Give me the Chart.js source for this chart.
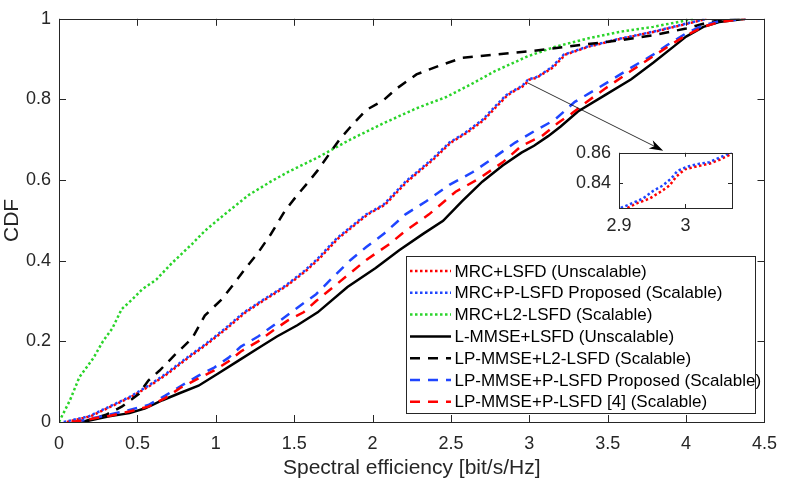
<!DOCTYPE html>
<html>
<head>
<meta charset="utf-8">
<script src="https://cdn.jsdelivr.net/npm/chart.js@4.4.0/dist/chart.umd.min.js"></script>
<style>
  body { margin: 0; background: #fff; }
  #wrap { position: relative; width: 788px; height: 484px; }
  #cdfChart { display: block; }
  #inset { position: absolute; left: 569px; top: 134px; }
</style>
</head>
<body>
<div id="wrap">
  <canvas id="cdfChart" width="788" height="484"></canvas>
  <canvas id="inset" width="168" height="106"></canvas>
</div>
<script>
// --- Data ---
const seriesNames = [
  "MRC+LSFD (Unscalable)",
  "MRC+P-LSFD Proposed (Scalable)",
  "MRC+L2-LSFD (Scalable)",
  "L-MMSE+LSFD (Unscalable)",
  "LP-MMSE+L2-LSFD (Scalable)",
  "LP-MMSE+P-LSFD Proposed (Scalable)",
  "LP-MMSE+P-LSFD [4] (Scalable)"
];

const mrcLsfdX = [0.05, 0.20, 0.33, 0.46, 0.58, 0.69, 0.81, 0.94, 1.07, 1.19, 1.32, 1.45, 1.57, 1.66, 1.78, 1.97, 2.08, 2.22, 2.39, 2.50, 2.60, 2.71, 2.79, 2.86,
  2.912, 2.928, 2.946, 2.964, 2.976, 2.986, 2.999, 3.016, 3.036, 3.051, 3.069, 3.15, 3.23, 3.38, 3.59, 3.80, 4.01, 4.13];
const mrcLsfdY = [0, 0.014, 0.038, 0.062, 0.09, 0.119, 0.155, 0.192, 0.232, 0.272, 0.305, 0.337, 0.373, 0.405, 0.455, 0.515, 0.539, 0.596, 0.652, 0.693, 0.717, 0.749, 0.782, 0.81,
  0.8229, 0.8264, 0.8293, 0.8343, 0.8381, 0.844, 0.8489, 0.8508, 0.8527, 0.8553, 0.8592, 0.879, 0.911, 0.931, 0.951, 0.968, 0.988, 1.0];

const mrcPLsfdX = [0.03, 0.19, 0.32, 0.45, 0.57, 0.68, 0.80, 0.93, 1.06, 1.18, 1.31, 1.44, 1.56, 1.65, 1.77, 1.96, 2.07, 2.21, 2.38, 2.49, 2.59, 2.70, 2.78, 2.85,
  2.902, 2.921, 2.936, 2.951, 2.966, 2.979, 2.988, 3.003, 3.021, 3.036, 3.051, 3.063, 3.14, 3.22, 3.37, 3.58, 3.79, 4.00, 4.13];
const mrcPLsfdY = [0, 0.014, 0.038, 0.062, 0.09, 0.119, 0.155, 0.192, 0.232, 0.272, 0.305, 0.337, 0.373, 0.405, 0.455, 0.515, 0.539, 0.596, 0.652, 0.693, 0.717, 0.749, 0.782, 0.81,
  0.8229, 0.8264, 0.8293, 0.8343, 0.8381, 0.843, 0.8479, 0.8508, 0.8527, 0.8537, 0.8567, 0.8592, 0.879, 0.911, 0.931, 0.951, 0.968, 0.988, 1.0];

const mrcL2LsfdX = [0, 0.07, 0.13, 0.22, 0.28, 0.34, 0.40, 0.47, 0.53, 0.62, 0.72, 0.85, 0.93, 1.05, 1.21, 1.35, 1.46, 1.65, 1.86, 2.07, 2.28, 2.47, 2.63, 2.78, 2.99, 3.16, 3.37, 3.58, 3.79, 4.00, 4.06];
const mrcL2LsfdY = [0, 0.054, 0.111, 0.159, 0.20, 0.232, 0.28, 0.305, 0.329, 0.353, 0.394, 0.442, 0.474, 0.513, 0.563, 0.596, 0.62, 0.656, 0.701, 0.741, 0.778, 0.806, 0.838, 0.87, 0.907, 0.93, 0.951, 0.968, 0.98, 0.996, 1.0];

const lMmseLsfdX = [0.15, 0.32, 0.45, 0.55, 0.66, 0.76, 0.89, 1.01, 1.14, 1.27, 1.39, 1.52, 1.65, 1.84, 2.02, 2.17, 2.32, 2.45, 2.57, 2.70, 2.83, 2.95, 3.03, 3.12, 3.20, 3.31, 3.48, 3.65, 3.79, 3.92, 4.00, 4.11, 4.21, 4.38];
const lMmseLsfdY = [0, 0.014, 0.022, 0.034, 0.054, 0.07, 0.09, 0.119, 0.151, 0.183, 0.212, 0.24, 0.272, 0.335, 0.382, 0.426, 0.466, 0.499, 0.547, 0.596, 0.636, 0.668, 0.685, 0.709, 0.733, 0.77, 0.81, 0.85, 0.891, 0.931, 0.956, 0.98, 0.992, 1.0];

const lpMmseL2LsfdX = [0.15, 0.30, 0.40, 0.51, 0.57, 0.64, 0.74, 0.85, 0.93, 1.04, 1.12, 1.19, 1.27, 1.35, 1.44, 1.52, 1.59, 1.65, 1.73, 1.79, 1.88, 1.96, 2.07, 2.15, 2.28, 2.42, 2.57, 2.78, 2.99, 3.16, 3.37, 3.58, 3.79, 4.00, 4.15, 4.25, 4.38];
const lpMmseL2LsfdY = [0, 0.018, 0.038, 0.07, 0.103, 0.127, 0.167, 0.208, 0.264, 0.305, 0.345, 0.381, 0.42, 0.465, 0.523, 0.563, 0.595, 0.624, 0.668, 0.701, 0.741, 0.774, 0.798, 0.826, 0.862, 0.883, 0.903, 0.911, 0.919, 0.927, 0.937, 0.947, 0.959, 0.976, 0.992, 0.998, 1.0];

const lpMmsePLsfdX = [0.10, 0.32, 0.45, 0.57, 0.68, 0.78, 0.89, 0.99, 1.08, 1.16, 1.27, 1.37, 1.54, 1.64, 1.75, 1.86, 1.96, 2.07, 2.21, 2.34, 2.49, 2.64, 2.76, 2.91, 3.03, 3.16, 3.29, 3.48, 3.65, 3.79, 3.88, 4.00, 4.11, 4.21, 4.38];
const lpMmsePLsfdY = [0, 0.018, 0.03, 0.042, 0.066, 0.09, 0.115, 0.135, 0.159, 0.187, 0.212, 0.24, 0.289, 0.317, 0.36, 0.402, 0.434, 0.466, 0.515, 0.547, 0.588, 0.62, 0.652, 0.693, 0.721, 0.749, 0.794, 0.838, 0.879, 0.911, 0.935, 0.964, 0.984, 0.994, 1.0];

const lpMmsePLsfd4X = [0.08, 0.32, 0.45, 0.57, 0.68, 0.78, 0.89, 0.99, 1.08, 1.16, 1.27, 1.37, 1.46, 1.56, 1.64, 1.75, 1.86, 1.96, 2.11, 2.21, 2.36, 2.53, 2.68, 2.83, 2.95, 3.08, 3.18, 3.27, 3.37, 3.48, 3.65, 3.79, 3.90, 4.00, 4.11, 4.21, 4.38];
const lpMmsePLsfd4Y = [0, 0.015, 0.026, 0.038, 0.06, 0.086, 0.108, 0.128, 0.15, 0.175, 0.2, 0.228, 0.252, 0.272, 0.3, 0.335, 0.37, 0.402, 0.442, 0.474, 0.515, 0.571, 0.604, 0.644, 0.685, 0.709, 0.741, 0.765, 0.795, 0.826, 0.871, 0.907, 0.935, 0.959, 0.98, 0.992, 1.0];

// zoomed window + its ticks, and the arrow pointing to it
const insetXRange = [2.9, 3.07];
const insetYRange = [0.823, 0.86];
const insetXTicks = [2.9, 3];
const insetYTicks = [0.84, 0.86];
const arrowFrom = [2.99, 0.841];
const arrowTo = [3.854, 0.673];

// --- Styles ---
const RED = "#ff0000", BLUE = "#1f45ff", GREEN = "#2ad42a", BLACK = "#000000";
const DOT = [2.5, 2.5], DASH = [10, 8];
const AXIS = "#262626";
const FONT = "'Liberation Sans', Arial, sans-serif";

Chart.defaults.font.family = FONT;
Chart.defaults.color = AXIS;

const pts = (xs, ys) => xs.map((x, i) => ({ x: x, y: ys[i] }));
const fmt = v => String(+v.toFixed(2)); // 1 not 1.0, like MATLAB

function series(name, xs, ys, color, dash, i) {
  return {
    label: name,
    data: pts(xs, ys),
    borderColor: color,
    borderDash: dash,
    borderWidth: 2.5,
    pointRadius: 0,
    showLine: true,
    fill: false,
    order: 10 - i // later series on top
  };
}

const allSeries = [
  series(seriesNames[0], mrcLsfdX, mrcLsfdY, RED, DOT, 0),
  series(seriesNames[1], mrcPLsfdX, mrcPLsfdY, BLUE, DOT, 1),
  series(seriesNames[2], mrcL2LsfdX, mrcL2LsfdY, GREEN, DOT, 2),
  series(seriesNames[3], lMmseLsfdX, lMmseLsfdY, BLACK, [], 3),
  series(seriesNames[4], lpMmseL2LsfdX, lpMmseL2LsfdY, BLACK, DASH, 4),
  series(seriesNames[5], lpMmsePLsfdX, lpMmsePLsfdY, BLUE, DASH, 5),
  series(seriesNames[6], lpMmsePLsfd4X, lpMmsePLsfd4Y, RED, DASH, 6)
];

// --- Plugins ---
// MATLAB-like box with inward ticks on all four sides
const boxTicks = {
  id: "boxTicks",
  beforeDatasetsDraw(chart) {
    const { ctx, chartArea: a } = chart;
    ctx.save();
    ctx.fillStyle = "#fff";
    ctx.fillRect(a.left, a.top, a.right - a.left, a.bottom - a.top);
    ctx.restore();
  },
  afterDatasetsDraw(chart, args, opts) {
    const { ctx, chartArea: a, scales: { x, y } } = chart;
    const len = opts.len || 7;
    ctx.save();
    ctx.strokeStyle = AXIS;
    ctx.lineWidth = 1;
    ctx.beginPath();
    x.ticks.forEach(t => {
      const px = Math.round(x.getPixelForValue(t.value)) + 0.5;
      ctx.moveTo(px, a.bottom); ctx.lineTo(px, a.bottom - len);
      ctx.moveTo(px, a.top); ctx.lineTo(px, a.top + len);
    });
    y.ticks.forEach(t => {
      const py = Math.round(y.getPixelForValue(t.value)) + 0.5;
      ctx.moveTo(a.left, py); ctx.lineTo(a.left + len, py);
      ctx.moveTo(a.right, py); ctx.lineTo(a.right - len, py);
    });
    ctx.stroke();
    ctx.strokeRect(Math.round(a.left) + 0.5, Math.round(a.top) + 0.5, Math.round(a.right - a.left), Math.round(a.bottom - a.top));
    ctx.restore();
  }
};

// legend box in the lower right + arrow to the inset
const legendAndArrow = {
  id: "legendAndArrow",
  afterDraw(chart) {
    const { ctx, chartArea: a, scales: { x, y } } = chart;
    ctx.save();

    // arrow
    const x0 = x.getPixelForValue(arrowFrom[0]), y0 = y.getPixelForValue(arrowFrom[1]);
    const x1 = x.getPixelForValue(arrowTo[0]), y1 = y.getPixelForValue(arrowTo[1]);
    const ang = Math.atan2(y1 - y0, x1 - x0);
    ctx.strokeStyle = "#000";
    ctx.fillStyle = "#000";
    ctx.lineWidth = 0.8;
    ctx.beginPath();
    ctx.moveTo(x0, y0);
    ctx.lineTo(x1 - 10 * Math.cos(ang), y1 - 10 * Math.sin(ang));
    ctx.stroke();
    ctx.beginPath();
    ctx.moveTo(x1, y1);
    ctx.lineTo(x1 - 14 * Math.cos(ang) + 4.5 * Math.sin(ang), y1 - 14 * Math.sin(ang) - 4.5 * Math.cos(ang));
    ctx.lineTo(x1 - 10 * Math.cos(ang), y1 - 10 * Math.sin(ang));
    ctx.lineTo(x1 - 14 * Math.cos(ang) - 4.5 * Math.sin(ang), y1 - 14 * Math.sin(ang) + 4.5 * Math.cos(ang));
    ctx.closePath();
    ctx.fill();

    // legend
    const lx = Math.round(a.right - 358) + 0.5, ly = Math.round(a.bottom - 166) + 0.5;
    const lw = 349, lh = 157, rowH = 21.8;
    ctx.fillStyle = "#fff";
    ctx.fillRect(lx, ly, lw, lh);
    ctx.strokeStyle = AXIS;
    ctx.lineWidth = 1;
    ctx.strokeRect(lx, ly, lw, lh);
    ctx.font = "17px " + FONT;
    ctx.textBaseline = "middle";
    allSeries.forEach((ds, i) => {
      const cy = ly + 14.5 + i * rowH;
      ctx.strokeStyle = ds.borderColor;
      ctx.lineWidth = 2.5;
      ctx.setLineDash(ds.borderDash);
      ctx.beginPath();
      ctx.moveTo(lx + 3.5, cy);
      ctx.lineTo(lx + 44.5, cy);
      ctx.stroke();
      ctx.setLineDash([]);
      ctx.fillStyle = "#000";
      ctx.fillText(ds.label, lx + 48, cy + 1);
    });
    ctx.restore();
  }
};

// --- Main chart ---
new Chart(document.getElementById("cdfChart"), {
  type: "scatter",
  data: { datasets: allSeries },
  plugins: [boxTicks, legendAndArrow],
  options: {
    responsive: false,
    animation: false,
    layout: { padding: { top: 10, right: 16, left: 0, bottom: 0 } },
    plugins: { legend: { display: false }, tooltip: { enabled: false }, boxTicks: { len: 7 } },
    scales: {
      x: {
        type: "linear", min: 0, max: 4.5,
        ticks: { stepSize: 0.5, padding: 11, font: { size: 18 }, color: AXIS, maxRotation: 0, callback: fmt },
        grid: { display: false, drawTicks: false },
        border: { display: false },
        title: { display: true, text: "Spectral efficiency [bit/s/Hz]", font: { size: 21 }, color: AXIS, padding: { top: 0, bottom: 3 } },
        afterFit: s => { s.height = 62; }
      },
      y: {
        type: "linear", min: 0, max: 1,
        ticks: { stepSize: 0.2, padding: 8, font: { size: 18 }, color: AXIS, callback: fmt },
        grid: { display: false, drawTicks: false },
        border: { display: false },
        title: { display: true, text: "CDF", font: { size: 21 }, color: AXIS, padding: { top: 0, bottom: 0 } },
        afterFit: s => { s.width = 59; }
      }
    }
  }
});

// --- Inset (zoom on the two MRC curves) ---
new Chart(document.getElementById("inset"), {
  type: "scatter",
  data: { datasets: [allSeries[0], allSeries[1]].map(d => Object.assign({}, d, { data: d.data.slice() })) },
  plugins: [boxTicks],
  options: {
    responsive: false,
    animation: false,
    layout: { padding: { top: 10, right: 5, left: 0, bottom: 0 } },
    plugins: { legend: { display: false }, tooltip: { enabled: false }, boxTicks: { len: 4 } },
    scales: {
      x: {
        type: "linear", min: insetXRange[0], max: insetXRange[1],
        afterBuildTicks: s => { s.ticks = insetXTicks.map(v => ({ value: v })); },
        ticks: { padding: 7, font: { size: 18 }, color: AXIS, maxRotation: 0, autoSkip: false, callback: fmt },
        grid: { display: false, drawTicks: false },
        border: { display: false },
        afterFit: s => { s.height = 32; }
      },
      y: {
        type: "linear", min: insetYRange[0], max: insetYRange[1],
        afterBuildTicks: s => { s.ticks = insetYTicks.map(v => ({ value: v })); },
        ticks: { padding: 8, font: { size: 18 }, color: AXIS, autoSkip: false, callback: fmt },
        grid: { display: false, drawTicks: false },
        border: { display: false },
        afterFit: s => { s.width = 50; }
      }
    }
  }
});
</script>
</body>
</html>
